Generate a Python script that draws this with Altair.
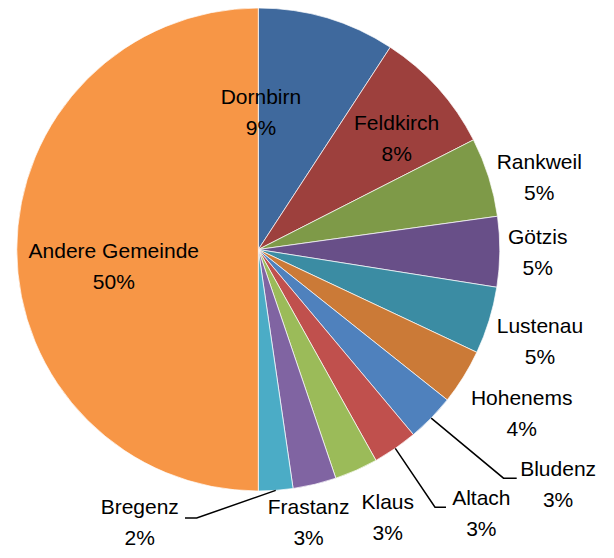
import math
import altair as alt
import pandas as pd

# ---- data ----
names = ["Dornbirn", "Feldkirch", "Rankweil", "Götzis", "Lustenau", "Hohenems",
         "Bludenz", "Altach", "Klaus", "Frastanz", "Bregenz", "Andere Gemeinde"]
values = [9.2, 8.3, 5.3, 4.7, 4.5, 3.7, 3.2, 3.0, 2.9, 2.9, 2.3, 50.0]
pct_text = ["9%", "8%", "5%", "5%", "5%", "4%", "3%", "3%", "3%", "3%", "2%", "50%"]
colors = ["#3F699D", "#9D403D", "#7E9A48", "#684F88", "#3B8CA3", "#CB7A37",
          "#4F81BD", "#C0504D", "#9BBB59", "#8064A2", "#4BACC6", "#F79646"]

# label placement: angle (deg, clockwise from top) and distance from pie centre (px)
label_angle = [1.1, 51.4, 75.8, 90.8, 108.1, 121.95, 128.2, 139.9, 154.3, 169.6, 203.4, 263.0]
label_dist = [136.3, 177.0, 289.8, 279.5, 296.3, 310.4, 381.5, 346.3, 298.5, 278.5, 298.5, 145.6]

# leader lines: elbow and end offsets from pie centre (px)
leader_names = ["Bludenz", "Altach", "Bregenz"]
leader_elbow_dx = [245.2, 176.7, -61.6]
leader_elbow_dy = [228.7, 257.7, 268.5]
leader_end_dx = [258.4, 187.7, -73.3]

FONT = "Liberation Sans, Arial, sans-serif"
W, H = 598, 542
CX, CY, R = 250.3, 241.5, 241.5

pie_df = pd.DataFrame({"name": names, "value": values, "idx": list(range(len(names)))})

lab_df = pd.DataFrame({
    "name": names,
    "text": [f"{n}\n{p}" for n, p in zip(names, pct_text)],
    "la": label_angle,
    "lr": label_dist,
})

# leader start at slice mid-angle on the pie edge
total = sum(values)
cum = 0.0
mid_angle = {}
for n, v in zip(names, values):
    mid_angle[n] = (cum + v / 2) / total * 2 * math.pi
    cum += v

rows = []
for n, ex, ey, endx in zip(leader_names, leader_elbow_dx, leader_elbow_dy, leader_end_dx):
    a = mid_angle[n]
    rows.append({"name": n, "k": 0, "px": CX + R * math.sin(a), "py": CY - R * math.cos(a)})
    rows.append({"name": n, "k": 1, "px": CX + ex, "py": CY + ey})
    rows.append({"name": n, "k": 2, "px": CX + endx, "py": CY + ey})
line_df = pd.DataFrame(rows)

arcs = alt.Chart(pie_df).mark_arc(outerRadius=R, stroke="white", strokeWidth=0.7).encode(
    theta=alt.Theta("value:Q", stack=True),
    order=alt.Order("idx:Q"),
    color=alt.Color("name:N", scale=alt.Scale(domain=names, range=colors), legend=None),
    x=alt.value(CX),
    y=alt.value(CY),
)

lines = alt.Chart(line_df).mark_line(color="black", strokeWidth=1.5).encode(
    x=alt.X("px:Q", scale=alt.Scale(domain=[0, W], range=[0, W], nice=False, zero=False), axis=None),
    y=alt.Y("py:Q", scale=alt.Scale(domain=[0, H], range=[0, H], nice=False, zero=False), axis=None),
    detail="name:N",
    order="k:Q",
)

texts = alt.Chart(lab_df).mark_text(
    font=FONT, fontSize=21, lineBreak="\n", lineHeight=31, dy=-15,
    align="center", baseline="middle", color="black",
).encode(
    theta=alt.Theta("la:Q", scale=alt.Scale(domain=[0, 360], range=[0, 2 * math.pi])),
    radius=alt.Radius("lr:Q", scale=alt.Scale(type="linear", domain=[0, 400], range=[0, 400], zero=True)),
    text="text:N",
    x=alt.value(CX),
    y=alt.value(CY),
)

chart = alt.layer(arcs, lines, texts).resolve_scale(theta="independent").properties(
    width=W, height=H, padding=0,
    autosize=alt.AutoSizeParams(type="none"),
    background="white",
).configure_view(stroke=None)

chart.save("out.html", embed_options={"renderer": "svg", "actions": False})
